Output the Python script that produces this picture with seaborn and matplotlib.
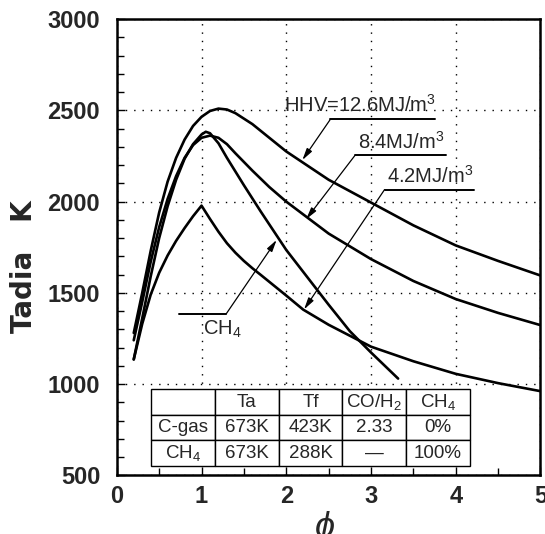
import matplotlib
matplotlib.use("Agg")
import matplotlib.pyplot as plt
import seaborn as sns
import pandas as pd
import numpy as np

# ---- data ----
phi_hhv126 = [0.2, 0.3, 0.4, 0.5, 0.6, 0.7, 0.8, 0.9, 1.0, 1.1, 1.2, 1.3, 1.4, 1.6, 1.8, 2.0, 2.5, 3.0, 3.5, 4.0, 4.5, 5.0]
t_hhv126 = [1280, 1500, 1730, 1940, 2110, 2240, 2340, 2415, 2465, 2497, 2510, 2505, 2485, 2425, 2350, 2275, 2120, 1995, 1870, 1760, 1675, 1595]

phi_hhv84 = [0.2, 0.3, 0.4, 0.5, 0.6, 0.7, 0.8, 0.9, 1.0, 1.1, 1.2, 1.3, 1.4, 1.6, 1.8, 2.0, 2.5, 3.0, 3.5, 4.0, 4.5, 5.0]
t_hhv84 = [1240, 1450, 1670, 1860, 2015, 2140, 2240, 2310, 2350, 2362, 2350, 2315, 2265, 2170, 2080, 2000, 1825, 1685, 1565, 1466, 1390, 1323]

phi_hhv42 = [0.2, 0.3, 0.4, 0.5, 0.6, 0.7, 0.8, 0.9, 1.0, 1.1, 1.2, 1.3, 1.4, 1.5, 1.6, 1.7, 2.0, 2.2, 2.5, 3.0, 3.5, 4.0, 4.5, 5.0]
t_hhv42 = [1135, 1330, 1490, 1610, 1705, 1785, 1855, 1920, 1978, 1905, 1835, 1772, 1720, 1675, 1635, 1598, 1485, 1408, 1325, 1205, 1125, 1056, 1005, 961]

phi_ch4 = [0.2, 0.3, 0.4, 0.5, 0.6, 0.7, 0.8, 0.9, 1.0, 1.05, 1.1, 1.2, 1.3, 1.5, 1.7, 2.0, 2.5, 2.75, 3.0, 3.32]
t_ch4 = [1135, 1360, 1590, 1800, 1975, 2120, 2235, 2315, 2368, 2383, 2375, 2320, 2240, 2090, 1945, 1735, 1435, 1290, 1173, 1030]

series_names = ["HHV=12.6", "HHV=8.4", "HHV=4.2", "CH4"]

table_cols = ["", "Ta", "Tf", "CO/H$_2$", "CH$_4$"]
table_row_cgas = ["C-gas", "673K", "423K", "2.33", "0%"]
table_row_ch4 = ["CH$_4$", "673K", "288K", "\u2014", "100%"]

x_ticks = [0, 1, 2, 3, 4, 5]
y_ticks = [500, 1000, 1500, 2000, 2500, 3000]

# ---- build long dataframe ----
frames = []
for name, p, t in zip(series_names,
                      [phi_hhv126, phi_hhv84, phi_hhv42, phi_ch4],
                      [t_hhv126, t_hhv84, t_hhv42, t_ch4]):
    frames.append(pd.DataFrame({"phi": p, "T": t, "gas": name}))
df = pd.concat(frames, ignore_index=True)

sns.set_style("ticks")
plt.rcParams["font.family"] = ["Liberation Sans", "DejaVu Sans"]
plt.rcParams["mathtext.fontset"] = "custom"
plt.rcParams["mathtext.rm"] = "Liberation Sans"
plt.rcParams["mathtext.it"] = "Liberation Sans:italic"

fig = plt.figure(figsize=(5.45, 5.34), dpi=100)
ax = fig.add_axes([0.2143, 0.110, 0.7774, 0.854])

sns.lineplot(data=df, x="phi", y="T", hue="gas", units="gas", estimator=None,
             sort=False, palette=["black"] * 4, linewidth=1.9, legend=False, ax=ax)

ax.set_xlim(0, 5)
ax.set_ylim(500, 3000)
ax.set_xticks(x_ticks)
ax.set_yticks(y_ticks)
ax.set_xticks(np.arange(0, 5.01, 0.5), minor=True)
ax.set_yticks(np.arange(500, 3001, 100), minor=True)

tick_font = dict(family=["Liberation Sans"], weight="bold", size=17)
ax.set_xticklabels([str(v) for v in x_ticks], fontdict=tick_font)
ax.set_yticklabels([str(v) for v in y_ticks], fontdict=tick_font)
ax.tick_params(axis="both", which="major", direction="in", length=6, width=1.0, color="black")
ax.tick_params(axis="both", which="minor", direction="in", length=5, width=1.0, color="black")
ax.tick_params(axis="y", which="major", pad=12)
ax.tick_params(axis="x", which="major", pad=7)

ax.grid(True, which="major", linestyle=(0, (1, 5)), color="black", linewidth=1.0)
for s in ax.spines.values():
    s.set_linewidth(1.8)
    s.set_color("black")

ax.set_ylabel("Tadia   K", fontdict=dict(family="DejaVu Sans", weight="bold", size=20))
ax.yaxis.set_label_coords(-0.185, 0.458)
ax.set_xlabel(r"$\phi$", fontdict=dict(family="DejaVu Sans", size=26))
ax.xaxis.set_label_coords(0.49, -0.075)

# ---- annotations ----
arrow = dict(arrowstyle="-|>,head_length=0.7,head_width=0.18", color="black", lw=0.9,
             shrinkA=0, shrinkB=0)
lab_font = dict(size=14.5, family="Liberation Sans")

# HHV=12.6
ax.plot([2.52, 3.75], [2451, 2451], color="black", lw=1.4)
ax.annotate("", xy=(2.19, 2228), xytext=(2.52, 2451), arrowprops=arrow)
ax.text(2.87, 2468, "HHV=12.6MJ/m$^3$", ha="center", va="bottom", **lab_font)

# 8.4
ax.plot([2.81, 3.88], [2253, 2253], color="black", lw=1.4)
ax.annotate("", xy=(2.235, 1904), xytext=(2.81, 2253), arrowprops=arrow)
ax.text(3.36, 2270, "8.4MJ/m$^3$", ha="center", va="bottom", **lab_font)

# 4.2
ax.plot([3.16, 4.21], [2066, 2066], color="black", lw=1.4)
ax.annotate("", xy=(2.21, 1409), xytext=(3.16, 2066), arrowprops=arrow)
ax.text(3.70, 2083, "4.2MJ/m$^3$", ha="center", va="bottom", **lab_font)

# CH4
ax.plot([0.74, 1.29], [1384, 1384], color="black", lw=1.4)
ax.annotate("", xy=(1.886, 1790), xytext=(1.29, 1384), arrowprops=arrow)
ax.text(1.25, 1300, "CH$_4$", ha="center", va="center", **lab_font)

# ---- table ----
x0, x1 = 0.407 / 5, 4.166 / 5
y0, y1 = (551 - 500) / 2500, (971 - 500) / 2500
tab = ax.table(cellText=[table_row_cgas, table_row_ch4], colLabels=table_cols,
               cellLoc="center", bbox=[x0, y0, x1 - x0, y1 - y0], zorder=5)
tab.auto_set_font_size(False)
for (r, c), cell in tab.get_celld().items():
    cell.set_linewidth(1.0)
    cell.set_edgecolor("black")
    cell.set_facecolor("white")
    cell.get_text().set_fontsize(13.5)
    cell.get_text().set_family("Liberation Sans")
    if c == 4 and r > 0:
        cell._loc = "right"
        cell.PAD = 0.08

fig.savefig("out.png", dpi=100)
